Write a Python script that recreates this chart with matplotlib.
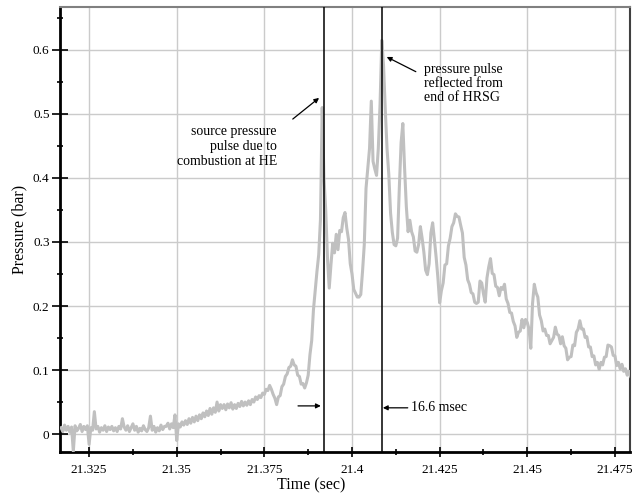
import numpy as np
import matplotlib
matplotlib.use("Agg")
import matplotlib.pyplot as plt
from matplotlib.ticker import MultipleLocator, FuncFormatter

plt.rcParams['font.family'] = ['Liberation Serif', 'DejaVu Serif']

# ---- data ----
t_start = 21.317
t_step = 0.0005
pressure = [
    0.010, 0.004, 0.014, 0.006, 0.012, 0.003, 0.011, -0.027, 0.013, 0.005,
    0.009, 0.015, 0.004, 0.012, 0.007, 0.013, -0.016, 0.010, 0.006, 0.035,
    0.008, 0.012, 0.003, 0.010, 0.006, 0.013, 0.004, 0.011, 0.007, 0.012,
    0.005, 0.010, 0.004, 0.012, 0.008, 0.024, 0.011, 0.006, 0.013, 0.004,
    0.010, 0.016, 0.006, 0.012, 0.003, 0.009, 0.005, 0.013, 0.007, 0.004,
    0.010, 0.028, 0.006, 0.012, 0.003, 0.010, 0.005, 0.014, 0.007, 0.012,
    0.012, 0.017, 0.008, 0.016, 0.010, 0.030, -0.010, 0.016, 0.011, 0.019,
    0.014, 0.021, 0.015, 0.024, 0.017, 0.026, 0.019, 0.028, 0.021, 0.030,
    0.024, 0.033, 0.027, 0.036, 0.029, 0.040, 0.031, 0.041, 0.034, 0.050,
    0.036, 0.046, 0.040, 0.046, 0.038, 0.047, 0.041, 0.049, 0.039, 0.046,
    0.040, 0.048, 0.043, 0.051, 0.044, 0.050, 0.045, 0.052, 0.046, 0.054,
    0.050, 0.058, 0.054, 0.060, 0.057, 0.064, 0.062, 0.070, 0.068, 0.076,
    0.070, 0.062, 0.056, 0.046, 0.058, 0.060, 0.074, 0.078, 0.090, 0.094,
    0.104, 0.106, 0.116, 0.108, 0.106, 0.092, 0.090, 0.078, 0.079, 0.072,
    0.080, 0.092, 0.124, 0.146, 0.194, 0.224, 0.254, 0.280, 0.335, 0.510,
    0.400, 0.350, 0.275, 0.228, 0.265, 0.298, 0.283, 0.312, 0.288, 0.318,
    0.316, 0.338, 0.346, 0.322, 0.304, 0.266, 0.250, 0.226, 0.220, 0.214,
    0.214, 0.218, 0.254, 0.296, 0.384, 0.416, 0.446, 0.520, 0.426, 0.414,
    0.404, 0.446, 0.515, 0.615, 0.575, 0.505, 0.445, 0.405, 0.345, 0.315,
    0.296, 0.294, 0.306, 0.385, 0.455, 0.485, 0.415, 0.355, 0.316, 0.334,
    0.316, 0.308, 0.286, 0.284, 0.296, 0.324, 0.306, 0.284, 0.256, 0.249,
    0.266, 0.314, 0.330, 0.304, 0.276, 0.244, 0.205, 0.224, 0.236, 0.264,
    0.266, 0.294, 0.306, 0.324, 0.330, 0.344, 0.340, 0.339, 0.326, 0.314,
    0.276, 0.264, 0.241, 0.234, 0.221, 0.219, 0.206, 0.204, 0.206, 0.239,
    0.236, 0.219, 0.206, 0.244, 0.261, 0.274, 0.251, 0.249, 0.231, 0.229,
    0.216, 0.229, 0.226, 0.234, 0.211, 0.204, 0.190, 0.189, 0.176, 0.169,
    0.151, 0.159, 0.161, 0.179, 0.166, 0.179, 0.174, 0.164, 0.134, 0.204,
    0.234, 0.221, 0.214, 0.186, 0.177, 0.161, 0.164, 0.154, 0.154, 0.141,
    0.146, 0.151, 0.167, 0.156, 0.154, 0.141, 0.152, 0.138, 0.134, 0.116,
    0.120, 0.121, 0.139, 0.138, 0.159, 0.164, 0.177, 0.164, 0.164, 0.151,
    0.152, 0.136, 0.136, 0.121, 0.122, 0.108, 0.112, 0.101, 0.112, 0.108,
    0.120, 0.121, 0.139, 0.138, 0.136, 0.123, 0.122, 0.107, 0.112, 0.102,
    0.109, 0.098, 0.102, 0.092, 0.098, 0.090,
]
time = t_start + t_step * np.arange(len(pressure))

marker_times = [21.3919, 21.4085]
x_ticks = [21.325, 21.35, 21.375, 21.4, 21.425, 21.45, 21.475]
y_ticks = [0, 0.1, 0.2, 0.3, 0.4, 0.5, 0.6]

# ---- figure ----
fig = plt.figure(figsize=(6.32, 4.95), dpi=100)
ax = fig.add_axes([60/632, 43/495, 570/632, 445/495])

ax.plot(time, pressure, color='#c0c0c0', lw=2.2, zorder=3)

for mt in marker_times:
    ax.axvline(mt, color='black', lw=1.1, zorder=4)

ax.set_xlim(21.3167, 21.4793)
ax.set_ylim(-0.028, 0.667)

ax.set_xticks(x_ticks)
ax.set_yticks(y_ticks)
ax.xaxis.set_minor_locator(MultipleLocator(0.0125))
ax.yaxis.set_minor_locator(MultipleLocator(0.05))
ax.xaxis.set_major_formatter(FuncFormatter(lambda v, p: f"{v:g}"))
ax.yaxis.set_major_formatter(FuncFormatter(lambda v, p: f"{v:g}"))

ax.grid(True, which='major', color='#cbcbcb', lw=1.0, zorder=0)
ax.tick_params(axis='both', which='major', direction='inout', colors='black',
               labelsize=9.5, width=1.2)
ax.tick_params(axis='x', which='major', length=7, pad=5)
ax.tick_params(axis='y', which='major', length=11, pad=2)
ax.tick_params(axis='both', which='minor', direction='inout', length=4.5, width=1.2)

for s in ['left', 'bottom']:
    ax.spines[s].set_linewidth(2.0)
    ax.spines[s].set_color('black')
ax.spines['top'].set_color('#808080')
ax.spines['top'].set_linewidth(1.5)
ax.spines['right'].set_color('#404040')
ax.spines['right'].set_linewidth(1.5)

ax.set_xlabel('Time (sec)', fontsize=11.5)
ax.xaxis.set_label_coords(0.44, -0.058)
ax.set_ylabel('Pressure (bar)', fontsize=11.5, labelpad=4)

arrow_kw = dict(arrowstyle='-|>', color='black', lw=0.9,
                mutation_scale=7, shrinkA=0, shrinkB=0)

# source pulse
ax.text(21.3786, 0.482, 'source pressure\npulse due to\ncombustion at HE',
        ha='right', va='top', fontsize=10, linespacing=1.2)
ax.annotate('', xy=(21.3906, 0.525), xytext=(21.3831, 0.492),
            arrowprops=arrow_kw)

# reflected pulse
ax.text(21.4205, 0.580, 'pressure pulse\nreflected from\nend of HRSG',
        ha='left', va='top', fontsize=10, linespacing=1.12)
ax.annotate('', xy=(21.4099, 0.589), xytext=(21.4182, 0.566),
            arrowprops=arrow_kw)

# 16.6 msec markers
ax.annotate('', xy=(21.3911, 0.044), xytext=(21.3846, 0.044),
            arrowprops=arrow_kw)
ax.annotate('', xy=(21.4088, 0.041), xytext=(21.4159, 0.041),
            arrowprops=arrow_kw)
ax.text(21.4168, 0.041, '16.6 msec', ha='left', va='center', fontsize=10)

fig.savefig('out.png', dpi=100)
